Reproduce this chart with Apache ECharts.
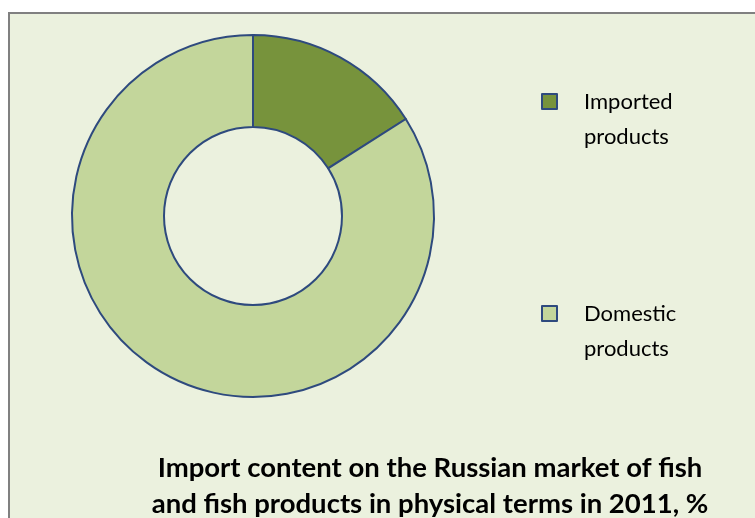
<!DOCTYPE html>
<html>
<head>
<meta charset="utf-8">
<style>
  html, body { margin: 0; padding: 0; background: #ffffff; }
  #chart { width: 755px; height: 518px; }
</style>
<script src="https://cdn.jsdelivr.net/npm/echarts@6/dist/echarts.min.js"></script>
</head>
<body>
<div id="chart"></div>
<script>
// shares of the market, %
const categories = ['Imported products', 'Domestic products']
const shares = [16, 84]
const sliceColors = ['#77933c', '#c3d69b']
const titleLines = [
  'Import content on the Russian market of fish',
  'and fish products in physical terms in 2011, %'
]

const chart = echarts.init(document.getElementById('chart'))

// one legend per item; a blank first line keeps the word on the marker's row
function legendFor(name, top) {
  return {
    orient: 'vertical',
    left: 541,
    top: top,
    padding: 0,
    data: [name],
    icon: 'rect',
    itemWidth: 15,
    itemHeight: 15,
    itemGap: 0,
    selectedMode: false,
    itemStyle: { borderColor: '#2e4a7e', borderWidth: 2 },
    formatter: n => ' \n' + n.replace(' ', '\n'),
    textStyle: {
      fontFamily: 'Lato, "Liberation Sans", sans-serif',
      fontSize: 22,
      color: '#000',
      lineHeight: 35,
      padding: [0, 0, 0, 22]
    }
  }
}

const option = {
  backgroundColor: '#ffffff',
  animation: false,
  graphic: [{
    type: 'rect',
    z: -10,
    shape: { x: 9, y: 13, width: 800, height: 600 },
    style: { fill: '#ebf1de', stroke: '#808080', lineWidth: 2 }
  }],
  title: {
    text: titleLines.join('\n'),
    left: 425,
    top: 445,
    textAlign: 'center',
    textStyle: {
      fontFamily: 'Lato, "Liberation Sans", sans-serif',
      fontWeight: 'bold',
      fontSize: 27.5,
      lineHeight: 36,
      color: '#000'
    }
  },
  legend: [
    legendFor(categories[0], 49),
    legendFor(categories[1], 261)
  ],
  series: [{
    type: 'pie',
    center: [253, 216],
    radius: [89, 181],
    startAngle: 90,
    clockwise: true,
    silent: true,
    label: { show: false },
    labelLine: { show: false },
    itemStyle: { borderColor: '#2e4a7e', borderWidth: 2 },
    data: categories.map((c, i) => ({
      name: c,
      value: shares[i],
      itemStyle: { color: sliceColors[i] }
    }))
  }]
}

chart.setOption(option)
</script>
</body>
</html>
